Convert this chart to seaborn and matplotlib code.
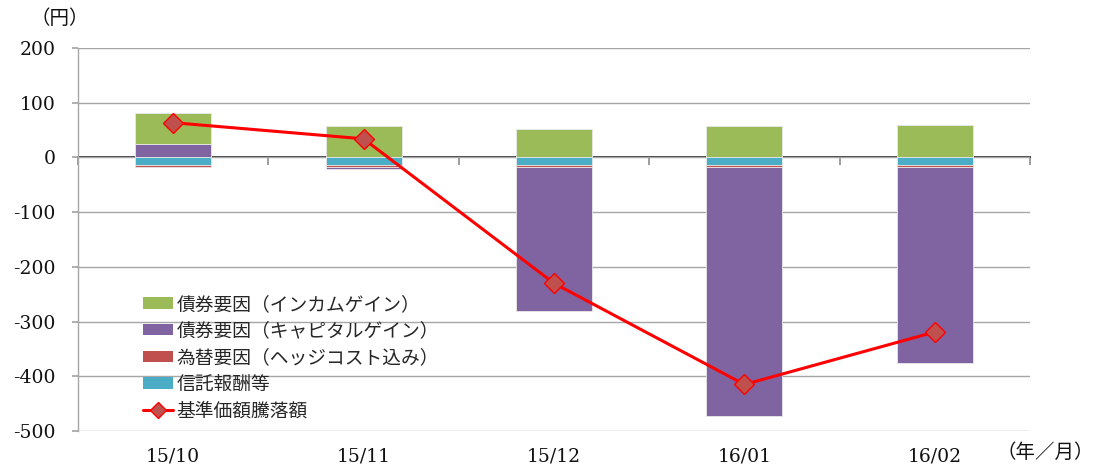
import numpy as np
import pandas as pd
import matplotlib
matplotlib.use("Agg")
import matplotlib.pyplot as plt
from matplotlib.patches import Patch
from matplotlib.lines import Line2D
import seaborn as sns

# Monthly attribution of NAV change (yen)
months = ["15/10", "15/11", "15/12", "16/01", "16/02"]
income_gain = [57, 57, 52, 57, 59]          # 債券要因（インカムゲイン）
capital_gain = [25, -5, -264, -455, -359]   # 債券要因（キャピタルゲイン）
fx_factor = [-3, -3, -3, -3, -3]            # 為替要因（ヘッジコスト込み）
trust_fees = [-14, -14, -14, -14, -14]      # 信託報酬等
nav_change = [63.5, 34, -230, -415, -319]   # 基準価額騰落額

y_ticks = [200, 100, 0, -100, -200, -300, -400, -500]

series_names = ["債券要因（インカムゲイン）", "債券要因（キャピタルゲイン）",
                "為替要因（ヘッジコスト込み）", "信託報酬等"]
line_name = "基準価額騰落額"
colors = {"income": "#9BBB59", "capital": "#8064A2", "fx": "#C0504D", "fee": "#4BACC6"}

sns.set_theme(style="white")
plt.rcParams["font.family"] = ["DejaVu Serif", "Noto Sans CJK JP"]
jp_font = ["Noto Sans CJK JP", "DejaVu Sans"]

fig = plt.figure(figsize=(10.96, 4.67), dpi=100)
ax = fig.add_axes([78 / 1096, 36 / 467, (1030 - 78) / 1096, (431 - 48) / 467])

df = pd.DataFrame({"month": months, "income": income_gain, "capital": capital_gain,
                   "fx": fx_factor, "fee": trust_fees, "nav": nav_change})

# Negative parts stack downward from zero: fees, then FX, then capital loss.
# Positive parts stack upward from zero: capital gain, then income.
bottoms = {}
neg_base = np.zeros(len(df))
for key in ["fee", "fx", "capital", "income"]:
    vals = df[key].to_numpy(dtype=float)
    bottoms[key] = neg_base.copy()
    neg_base = neg_base + np.where(vals < 0, vals, 0)
pos_base = np.zeros(len(df))
for key in ["capital", "income", "fee", "fx"]:
    vals = df[key].to_numpy(dtype=float)
    bottoms[key] = np.where(vals >= 0, pos_base, bottoms[key])
    pos_base = pos_base + np.where(vals >= 0, vals, 0)

for key in ["capital", "income", "fee", "fx"]:
    sns.barplot(data=df, x="month", y=key, order=months, bottom=bottoms[key],
                color=colors[key], saturation=1, width=0.4, errorbar=None,
                edgecolor="#E8E8E8", linewidth=0.6, ax=ax, zorder=2)

sns.pointplot(data=df, x="month", y="nav", order=months, color="#FF0000",
              markers="D", errorbar=None, ax=ax, linewidth=2.2,
              markersize=10, markerfacecolor="#C0504D", markeredgecolor="#FF0000",
              markeredgewidth=1.0, zorder=5)

ymin, ymax = -500, 200
ax.set_ylim(ymin, ymax)
ax.set_xlim(-0.5, len(months) - 0.5)
ax.set_yticks(y_ticks)
ax.set_yticklabels([str(v) for v in y_ticks])
ax.yaxis.grid(True, color="#A6A6A6", linewidth=1.0)
ax.set_axisbelow(True)
for s in ["top", "right", "bottom"]:
    ax.spines[s].set_visible(False)
ax.spines["left"].set_color("#A6A6A6")
ax.spines["left"].set_linewidth(1.0)
ax.tick_params(axis="y", left=True, length=4, color="#A6A6A6", pad=12,
               labelsize=13.5, labelcolor="#111111")
ax.tick_params(axis="x", bottom=False, length=0, pad=12, labelsize=13.5,
               labelcolor="#111111")
ax.set_xlabel("")
ax.set_ylabel("")

# Category axis line through zero with ticks between months
zero_frac = (0 - ymin) / (ymax - ymin)
sec = ax.secondary_xaxis(zero_frac)
sec.set_xticks(np.arange(len(months) + 1) - 0.5)
sec.set_xticklabels([])
sec.tick_params(direction="in", length=6, color="#8C8C8C", width=1.2)
sec.spines["bottom"].set_color("#8C8C8C")
sec.spines["bottom"].set_linewidth(1.6)

handles = [Patch(facecolor=colors[k], edgecolor="none") for k in ["income", "capital", "fx", "fee"]]
handles.append(Line2D([], [], color="#FF0000", lw=2.2, marker="D", markersize=8,
                      markerfacecolor="#C0504D", markeredgecolor="#FF0000"))
leg = ax.legend(handles, series_names + [line_name], loc="upper left",
                bbox_to_anchor=(139 / 1096, 1 - 290 / 467), bbox_transform=fig.transFigure,
                frameon=False, prop={"family": jp_font, "size": 13.5},
                handlelength=1.6, handleheight=0.55, handletextpad=0.2,
                labelspacing=0.3, borderpad=0.2, borderaxespad=0)

fig.text(60 / 1096, 1 - 18 / 467, "（円）", ha="center", va="center",
         fontsize=14, family=jp_font, color="#111111")
fig.text(1094 / 1096, 1 - 452 / 467, "（年／月）", ha="right", va="center",
         fontsize=14, family=jp_font, color="#111111")

fig.savefig("out.png", dpi=100)
